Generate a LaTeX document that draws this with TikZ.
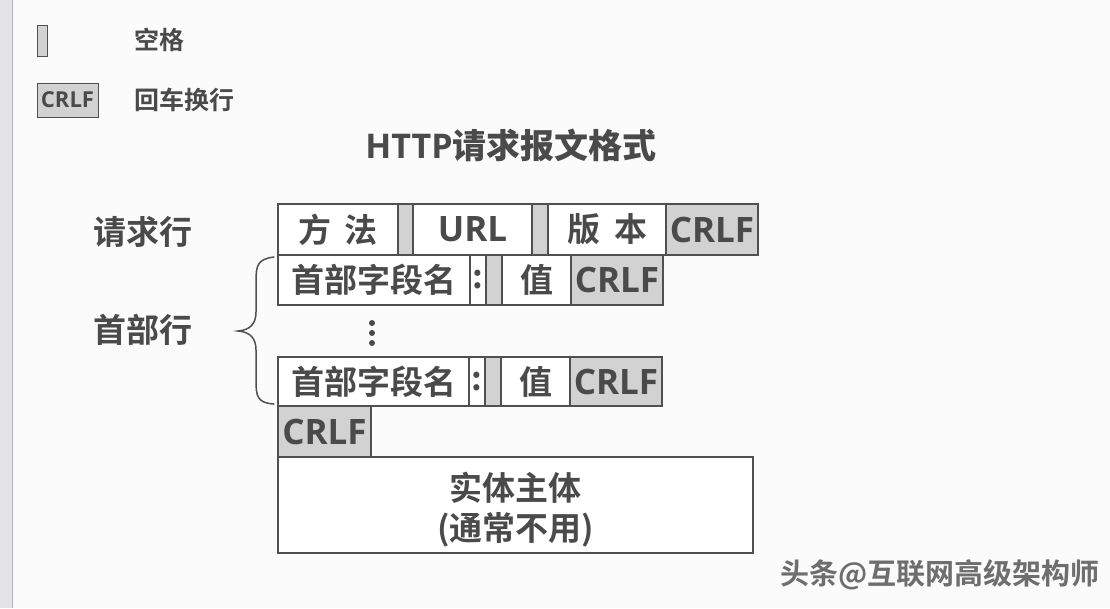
\documentclass[tikz,border=0pt]{standalone}
\usepackage{fontspec}
\setmainfont{Open Sans}
\newfontfamily\cjk{Noto Sans CJK SC Bold}
\definecolor{ink}{HTML}{4A4A4A}
\definecolor{edge}{HTML}{505050}
\definecolor{gfill}{HTML}{D2D2D2}
\definecolor{bg}{HTML}{FBFBFB}
\definecolor{strip}{HTML}{E4E4E7}
\definecolor{stripline}{HTML}{B4B4B8}
\begin{document}
\begin{tikzpicture}[x=1pt,y=-1pt,
  cell/.style={draw=edge, line width=1.4pt, inner sep=0pt, outer sep=0pt, anchor=north west, text=ink, fill=white},
  gcell/.style={cell, fill=gfill},
  big/.style={font=\cjk\fontsize{33}{36}\selectfont},
  lat/.style={font=\bfseries\fontsize{35}{36}\selectfont},
  lbl/.style={text=ink, inner sep=0pt, font=\cjk\fontsize{33}{36}\selectfont},
  leg/.style={text=ink, inner sep=0pt, anchor=west, font=\cjk\fontsize{25}{28}\selectfont}]
\useasboundingbox (0,0) rectangle (1110,608);
\fill[bg] (0,0) rectangle (1110,608);
\fill[strip] (0,0) rectangle (12,608);
\draw[stripline, line width=1.5pt] (12.5,0) -- (12.5,608);

% legend
\node[gcell, line width=1pt, minimum width=10pt, minimum height=31pt] (legsp) at (37,25) {};
\node[leg] (legsptxt) at (134,40) {空格};
\node[gcell, line width=1pt, minimum width=61pt, minimum height=34pt, font=\bfseries\fontsize{22}{24}\selectfont] (legcr) at (37,83) {CRLF};
\node[leg] (legcrtxt) at (134,100) {回车换行};

% title
\node[text=ink, inner sep=0pt, font=\fontsize{34}{36}\selectfont] (title) at (511,145) {\bfseries HTTP\cjk 请求报文格式};

% side labels
\node[lbl] (reqline) at (143,232) {请求行};
\node[lbl] (hdrline) at (143,330) {首部行};

% request line
\node[cell, big, minimum width=120pt, minimum height=51pt] (method) at (278,204) {方\hspace{14pt}法};
\node[gcell, minimum width=15pt, minimum height=51pt] (sp1) at (398,204) {};
\node[cell, lat, minimum width=119pt, minimum height=51pt] (url) at (413,204) {URL};
\node[gcell, minimum width=16pt, minimum height=51pt] (sp2) at (532,204) {};
\node[cell, big, minimum width=118pt, minimum height=51pt] (ver) at (548,204) {版\hspace{14pt}本};
\node[gcell, lat, minimum width=92pt, minimum height=51pt] (crlf1) at (666,204) {CRLF};

% header line 1
\node[cell, big, minimum width=192pt, minimum height=50pt] (name1) at (278,255) {首部字段名};
\node[cell, big, minimum width=16pt, minimum height=50pt] (colon1) at (470,255) {:};
\node[gcell, minimum width=16pt, minimum height=50pt] (sp3) at (486,255) {};
\node[cell, big, minimum width=69pt, minimum height=50pt] (val1) at (502,255) {值};
\node[gcell, lat, minimum width=92pt, minimum height=50pt] (crlf2) at (571,255) {CRLF};

% dots
\fill[ink] (372,323) circle (3pt) (372,333) circle (3pt) (372,343) circle (3pt);

% header line n
\node[cell, big, minimum width=191pt, minimum height=49pt] (name2) at (278,357) {首部字段名};
\node[cell, big, minimum width=16pt, minimum height=49pt] (colon2) at (469,357) {:};
\node[gcell, minimum width=16pt, minimum height=49pt] (sp4) at (485,357) {};
\node[cell, big, minimum width=69pt, minimum height=49pt] (val2) at (501,357) {值};
\node[gcell, lat, minimum width=92pt, minimum height=49pt] (crlf3) at (570,357) {CRLF};

% empty line
\node[gcell, lat, minimum width=93pt, minimum height=51pt] (crlf4) at (278,406) {CRLF};

% body
\node[cell, minimum width=475pt, minimum height=96pt] (body) at (278,457) {};
\node[text=ink, inner sep=0pt, font=\cjk\fontsize{33}{36}\selectfont, align=center] (bodytxt) at ([yshift=-5pt]body.center) {实体主体\\[4pt](通常不用)};

% brace
\coordinate (btop) at (name1.north west);
\coordinate (bbot) at (name2.south west);
\draw[edge, line width=1.5pt, line cap=round]
  ([xshift=-4pt,yshift=-2pt]btop) .. controls (257,259) and (256,266) .. (256,282)
  -- (256,312) .. controls (256,324) and (250,330) .. (238,331)
  .. controls (250,332) and (256,338) .. (256,350)
  -- (256,380) .. controls (256,396) and (257,403) .. ([xshift=-4pt,yshift=2pt]bbot);

% watermark
\node[text=ink!80, inner sep=0pt, anchor=west, font=\cjk\fontsize{29}{32}\selectfont] (wm) at (780,575) {头条@互联网高级架构师};
\end{tikzpicture}
\end{document}
